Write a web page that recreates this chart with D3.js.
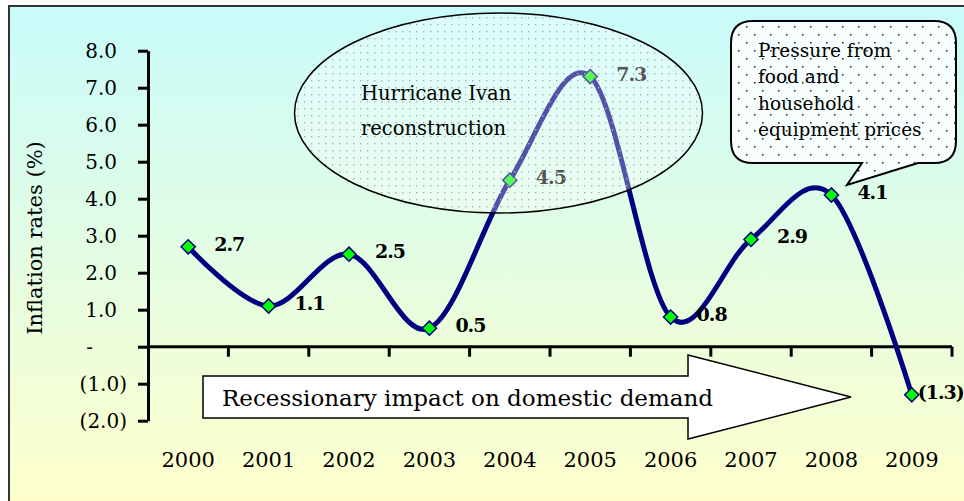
<!DOCTYPE html>
<html>
<head>
<meta charset="utf-8">
<script src="https://cdn.jsdelivr.net/npm/d3@7"></script>
<style>
  html, body { margin: 0; padding: 0; background: #ffffff; }
  svg { display: block; }
  text { font-family: "DejaVu Serif", serif; fill: #000; }
</style>
</head>
<body>
<svg id="chart" width="964" height="501"></svg>
<script>
// ---- data ----
const years = ["2000","2001","2002","2003","2004","2005","2006","2007","2008","2009"];
const inflation = [2.7, 1.1, 2.5, 0.5, 4.5, 7.3, 0.8, 2.9, 4.1, -1.3];
const yTicks = [-2, -1, 0, 1, 2, 3, 4, 5, 6, 7, 8];
const yTitle = "Inflation rates (%)";
const ellipseLines = ["Hurricane Ivan", "reconstruction"];
const calloutLines = ["Pressure from", "food and", "household", "equipment prices"];
const arrowLabel = "Recessionary impact on domestic demand";

const svg = d3.select("#chart");
const W = 964, H = 501;

// ---- defs ----
const defs = svg.append("defs");
const grad = defs.append("linearGradient").attr("id", "bg").attr("x1", 0).attr("y1", 0).attr("x2", 0).attr("y2", 1);
grad.append("stop").attr("offset", "0%").attr("stop-color", "#c9fbfb");
grad.append("stop").attr("offset", "55%").attr("stop-color", "#e6fde0");
grad.append("stop").attr("offset", "100%").attr("stop-color", "#ffffcc");

const pat1 = defs.append("pattern").attr("id", "dotsEllipse").attr("patternUnits", "userSpaceOnUse")
  .attr("width", 7).attr("height", 7);
pat1.append("rect").attr("width", 7).attr("height", 7).attr("fill", "#ffffff").attr("fill-opacity", 0.32);
pat1.append("rect").attr("x", 3).attr("y", 3).attr("width", 1.4).attr("height", 1.4).attr("fill", "#a8b0b0");

const pat2 = defs.append("pattern").attr("id", "dotsCallout").attr("patternUnits", "userSpaceOnUse")
  .attr("width", 16).attr("height", 16);
pat2.append("rect").attr("width", 16).attr("height", 16).attr("fill", "#f6fefe");
pat2.append("rect").attr("x", 2).attr("y", 2).attr("width", 1.6).attr("height", 1.6).attr("fill", "#333");
pat2.append("rect").attr("x", 10).attr("y", 10).attr("width", 1.6).attr("height", 1.6).attr("fill", "#333");

// ---- background & frame ----
svg.append("rect").attr("x", 9).attr("y", 6).attr("width", W).attr("height", H)
  .attr("fill", "url(#bg)").attr("stroke", "#333").attr("stroke-width", 2);

// ---- scales ----
const x = d3.scaleBand().domain(years).range([148, 952]).paddingInner(0).paddingOuter(0);
const y = d3.scaleLinear().domain([-2, 8]).range([420.7, 50.7]);
const cx = d => x(d) + x.bandwidth() / 2;

// ---- y axis ----
const fmt = v => v === 0 ? "-" : (v < 0 ? "(" + d3.format(".1f")(-v) + ")" : d3.format(".1f")(v));
const yAxis = svg.append("g").attr("transform", "translate(148,0)")
  .call(d3.axisLeft(y).tickValues(yTicks).tickFormat(fmt).tickSize(10).tickSizeOuter(0).tickPadding(11));
yAxis.select(".domain").attr("stroke", "#000").attr("stroke-width", 3);
yAxis.selectAll(".tick line").attr("stroke", "#000").attr("stroke-width", 3);
yAxis.selectAll(".tick text")
  .style("font-family", "DejaVu Serif").style("font-size", "20px").attr("fill", "#000")
  .attr("dy", "0.36em")
  .attr("x", v => v === 0 ? -55 : (v > 0 ? -31 : -21));

// ---- x axis line with ticks at category boundaries ----
const xAxisG = svg.append("g").attr("transform", `translate(0,${y(0)})`);
xAxisG.append("line").attr("x1", x.range()[0]).attr("x2", x.range()[1])
  .attr("stroke", "#000").attr("stroke-width", 3);
const bounds = years.slice(1).map(d => x(d)).concat([x.range()[1]]);
xAxisG.selectAll("line.tk").data(bounds).join("line").attr("class", "tk")
  .attr("x1", d => d).attr("x2", d => d).attr("y1", 0).attr("y2", 10)
  .attr("stroke", "#000").attr("stroke-width", 3);

// year labels
const xLab = svg.append("g").attr("transform", "translate(0,467)")
  .call(d3.axisBottom(x).tickSize(0).tickSizeOuter(0));
xLab.select(".domain").remove();
xLab.selectAll(".tick text").attr("y", 0).attr("dy", 0)
  .style("font-family", "DejaVu Serif").style("font-size", "21px").attr("fill", "#000");

// y title
svg.append("text").attr("transform", "translate(42,238) rotate(-90)")
  .attr("text-anchor", "middle").style("font-size", "21px").text(yTitle);

// ---- arrow annotation ----
svg.append("polygon")
  .attr("points", "203,376 688,376 688,355 851,397 688,439 688,418 203,418")
  .attr("fill", "#ffffff").attr("stroke", "#000").attr("stroke-width", 1.5);
svg.append("text").attr("x", 222).attr("y", 406).style("font-size", "23px").text(arrowLabel);

// ---- line ----
const pts = years.map((d, i) => ({ year: d, v: inflation[i] }));
const line = d3.line().x(d => cx(d.year)).y(d => y(d.v)).curve(d3.curveCatmullRom.alpha(0));
svg.append("path").datum(pts).attr("d", line)
  .attr("fill", "none").attr("stroke", "#000080").attr("stroke-width", 5)
  .attr("stroke-linejoin", "round").attr("stroke-linecap", "round");

// markers
svg.selectAll("path.mk").data(pts).join("path").attr("class", "mk")
  .attr("d", d3.symbol(d3.symbolSquare, 100))
  .attr("transform", d => `translate(${cx(d.year)},${y(d.v)}) rotate(45)`)
  .attr("fill", "#00ff00").attr("stroke", "#000080").attr("stroke-width", 1.5);

// data labels
svg.selectAll("text.dl").data(pts).join("text").attr("class", "dl")
  .attr("x", d => cx(d.year) + (d.v < 0 ? 6 : 26))
  .attr("y", d => y(d.v) + 4)
  .style("font-size", "19px").style("font-weight", "bold").style("letter-spacing", "-1px")
  .text(d => d.v < 0 ? "(" + d3.format(".1f")(-d.v) + ")" : d3.format(".1f")(d.v));

// ---- ellipse annotation (overlay) ----
svg.append("ellipse").attr("cx", 498.5).attr("cy", 113).attr("rx", 204).attr("ry", 100)
  .attr("fill", "url(#dotsEllipse)").attr("stroke", "#000").attr("stroke-width", 1.5);
svg.selectAll("text.el").data(ellipseLines).join("text").attr("class", "el")
  .attr("x", 361).attr("y", (d, i) => 100 + i * 35)
  .style("font-size", "19.5px").attr("fill", "#111").text(d => d);

// ---- callout annotation ----
const cx0 = 731, cy0 = 21, cx1 = 956, cy1 = 163, r = 22;
const callout = `M${cx0 + r},${cy0} L${cx1 - r},${cy0} Q${cx1},${cy0} ${cx1},${cy0 + r}
  L${cx1},${cy1 - r} Q${cx1},${cy1} ${cx1 - r},${cy1} L918,${cy1} L847,185 L862,${cy1}
  L${cx0 + r},${cy1} Q${cx0},${cy1} ${cx0},${cy1 - r} L${cx0},${cy0 + r} Q${cx0},${cy0} ${cx0 + r},${cy0} Z`;
svg.append("path").attr("d", callout).attr("fill", "url(#dotsCallout)")
  .attr("stroke", "#000").attr("stroke-width", 2);
svg.selectAll("text.co").data(calloutLines).join("text").attr("class", "co")
  .attr("x", 758).attr("y", (d, i) => 57 + i * 26.3)
  .style("font-size", "18.5px").text(d => d);
</script>
</body>
</html>
